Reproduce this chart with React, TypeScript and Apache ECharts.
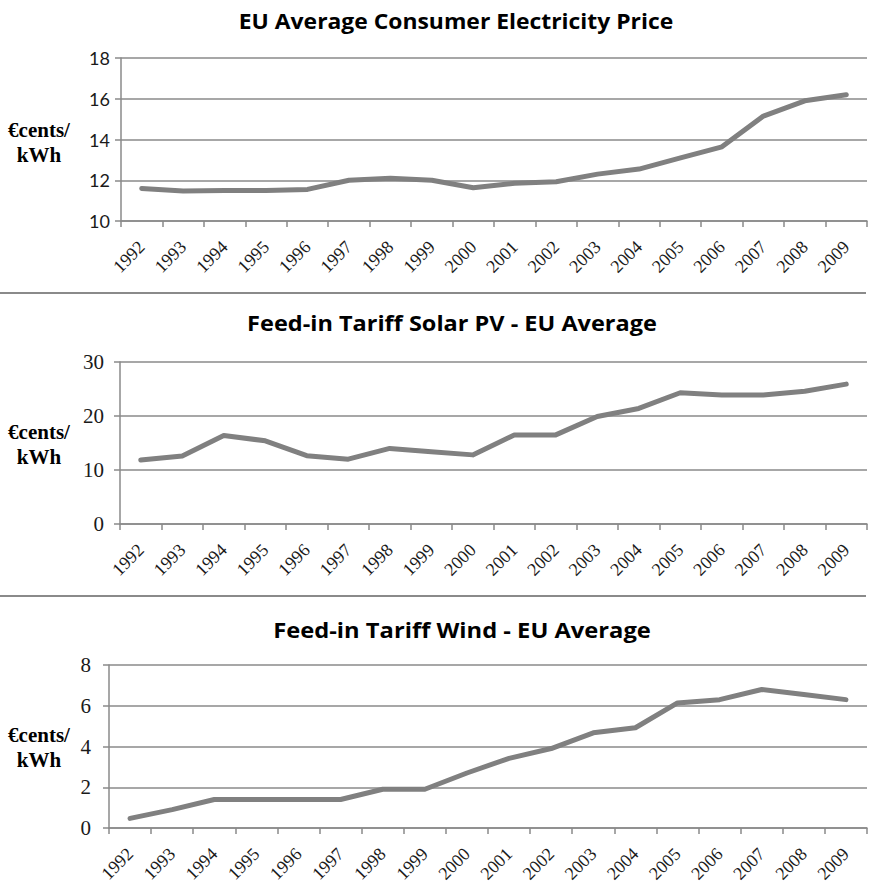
import React, { useEffect, useRef } from "react";
import * as echarts from "echarts";

const years = ["1992","1993","1994","1995","1996","1997","1998","1999","2000","2001","2002","2003","2004","2005","2006","2007","2008","2009"];
const consumerPrice = [11.6, 11.47, 11.5, 11.5, 11.55, 12.0, 12.1, 12.0, 11.63, 11.85, 11.93, 12.3, 12.55, 13.1, 13.64, 15.15, 15.9, 16.2];
const solarFit = [11.85, 12.6, 16.4, 15.4, 12.65, 12.0, 14.0, 13.4, 12.8, 16.5, 16.5, 19.9, 21.4, 24.3, 23.9, 23.9, 24.6, 25.9];
const windFit = [0.47, 0.9, 1.4, 1.4, 1.4, 1.4, 1.9, 1.9, 2.7, 3.42, 3.9, 4.67, 4.92, 6.14, 6.3, 6.8, 6.55, 6.3];

const titles = ["EU Average Consumer Electricity Price", "Feed-in Tariff Solar PV - EU Average", "Feed-in Tariff Wind - EU Average"];
const yUnit = "€cents/\nkWh";

const AX = "#8a8a8a";
const LINE = "#808080";
const SERIF = "Liberation Serif, serif";
const SANS = "Open Sans, sans-serif";

export default function App() {
  const ref = useRef<HTMLDivElement>(null);
  useEffect(() => {
    if (!ref.current) return;
    const chart = echarts.init(ref.current, undefined, { renderer: "svg" });
    const grids = [
      { left: 121, right: 8, top: 58, height: 163 },
      { left: 120, right: 8, top: 362, height: 162 },
      { left: 109, right: 8, top: 665, height: 163 },
    ];
    const yCfg = [
      { min: 10, max: 18, interval: 2, font: "Lato, sans-serif", size: 18, margin: 11 },
      { min: 0, max: 30, interval: 10, font: SERIF, size: 21, margin: 16 },
      { min: 0, max: 8, interval: 2, font: SERIF, size: 21, margin: 18 },
    ];
    const datas = [consumerPrice, solarFit, windFit];
    const titleX = [456, 452, 462];
    const titleY = [21, 323, 630];
    const titleScale = [1.09, 1.12, 1.13];
    const unitY = [142, 444, 747];

    const option: any = {
      animation: false,
      backgroundColor: "#ffffff",
      grid: grids.map((g) => ({ ...g, containLabel: false })),
      xAxis: grids.map((_, i) => ({
        type: "category",
        gridIndex: i,
        data: years,
        boundaryGap: true,
        axisLine: { show: true, lineStyle: { color: AX, width: 1.5 } },
        axisTick: { show: true, length: 6, lineStyle: { color: AX, width: 1.5 } },
        axisLabel: {
          rotate: 45,
          interval: 0,
          margin: 23,
          fontFamily: SERIF,
          fontSize: 18,
          color: "#1a1a1a",
        },
        splitLine: { show: false },
      })),
      yAxis: grids.map((_, i) => ({
        type: "value",
        gridIndex: i,
        min: yCfg[i].min,
        max: yCfg[i].max,
        interval: yCfg[i].interval,
        axisLine: { show: true, lineStyle: { color: AX, width: 1.5 } },
        axisTick: { show: true, length: 6, lineStyle: { color: AX, width: 1.5 } },
        axisLabel: {
          margin: yCfg[i].margin,
          fontFamily: yCfg[i].font,
          fontSize: yCfg[i].size,
          color: "#1a1a1a",
        },
        splitLine: { show: true, lineStyle: { color: AX, width: 1.5 } },
      })),
      series: datas.map((d, i) => ({
        type: "line",
        xAxisIndex: i,
        yAxisIndex: i,
        data: d,
        symbol: "none",
        lineStyle: { color: LINE, width: 5, join: "round", cap: "round" },
      })),
      graphic: [
        ...titles.map((t, i) => ({
          type: "text",
          x: titleX[i],
          y: titleY[i],
          scaleX: titleScale[i],
          style: {
            text: t,
            fontFamily: SANS,
            fontWeight: "bold",
            fontSize: 21,
            fill: "#000",
            textAlign: "center",
            textVerticalAlign: "middle",
          },
        })),
        ...unitY.map((y) => ({
          type: "text",
          x: 39,
          y,
          style: {
            text: yUnit,
            fontFamily: SERIF,
            fontWeight: "bold",
            fontSize: 21,
            lineHeight: 25,
            fill: "#000",
            textAlign: "center",
            textVerticalAlign: "middle",
          },
        })),
        ...[293, 596].map((y) => ({
          type: "line",
          shape: { x1: 0, y1: y, x2: 866, y2: y },
          style: { stroke: AX, lineWidth: 2 },
        })),
      ],
    };
    chart.setOption(option);
    return () => chart.dispose();
  }, []);
  return (
    <div
      ref={ref}
      style={{ position: "absolute", left: 0, top: 0, width: 875, height: 896 }}
    />
  );
}
